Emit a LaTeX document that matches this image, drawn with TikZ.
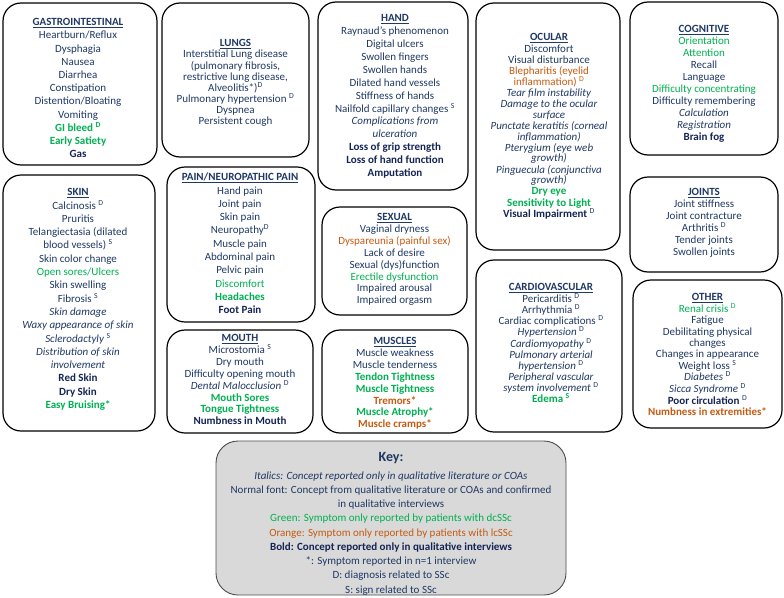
\documentclass[tikz,border=0pt]{standalone}
\usepackage{fontspec}
\setmainfont{Carlito}
\usetikzlibrary{calc}
\definecolor{navy}{RGB}{31,56,100}
\definecolor{navyb}{RGB}{20,36,84}
\definecolor{grn}{RGB}{0,176,80}
\definecolor{org}{RGB}{197,90,17}
\definecolor{keyfill}{RGB}{217,217,217}
\newcommand\cg[1]{\textcolor{grn}{#1}}
\newcommand\cgb[1]{\textcolor{grn}{\textbf{#1}}}
\newcommand\co[1]{\textcolor{org}{#1}}
\newcommand\cob[1]{\textcolor{org}{\textbf{#1}}}
\newcommand\cbb[1]{\textcolor{navyb}{\textbf{#1}}}
\newcommand\sD{\textsuperscript{D}}
\newcommand\sS{\textsuperscript{S}}
\newcommand\ttl[1]{\rule{0pt}{8pt}\underline{\textbf{#1}}}
\tikzset{
  panel/.style={draw=black, line width=1.2pt, rounded corners=18pt, inner sep=0pt},
  keypanel/.style={draw=black!70, fill=keyfill, line width=0.9pt, rounded corners=22pt, inner sep=0pt},
  txt/.style={inner sep=0pt, align=center, anchor=north, text=navy},
  lsp/.style={font={\fontsize{11}{#1}\selectfont}},
}
\begin{document}
\begin{tikzpicture}[x=1pt,y=-1pt]
\useasboundingbox (0,0) rectangle (784,597);

% panels
\node[panel, minimum width=154pt, minimum height=162pt] (gi) at (80,84) {};
\node[panel, minimum width=147pt, minimum height=154pt] (lungs) at (235.5,80) {};
\node[panel, minimum width=150pt, minimum height=188pt] (hand) at (393,96) {};
\node[panel, minimum width=144pt, minimum height=247pt] (ocular) at (548,126.5) {};
\node[panel, minimum width=148pt, minimum height=153pt] (cog) at (704,78.5) {};
\node[panel, minimum width=152pt, minimum height=256pt] (skin) at (79,303) {};
\node[panel, minimum width=148pt, minimum height=155pt] (pain) at (241,244.5) {};
\node[panel, minimum width=146pt, minimum height=103pt] (mouth) at (240,381.5) {};
\node[panel, minimum width=145pt, minimum height=108pt] (sexual) at (394.5,261) {};
\node[panel, minimum width=146pt, minimum height=103pt] (muscles) at (395,381.5) {};
\node[panel, minimum width=146pt, minimum height=172pt] (cardio) at (549,346) {};
\node[panel, minimum width=148pt, minimum height=95pt] (joints) at (704,224.5) {};
\node[panel, minimum width=149pt, minimum height=148pt] (other) at (707.5,354) {};
\node[keypanel, minimum width=350pt, minimum height=154pt] (key) at (391,518) {};

% texts
\node[txt, lsp=13.2] (gitxt) at (78,17.5) {\ttl{GASTROINTESTINAL}\\ Heartburn/Reflux\\ Dysphagia\\ Nausea\\ Diarrhea\\ Constipation\\ Distention/Bloating\\ Vomiting\\ \cgb{GI bleed \sD}\\ \cgb{Early Satiety}\\ \cbb{Gas}};

\node[txt, lsp=11.15] (lungstxt) at (235.5,38.5) {\ttl{LUNGS}\\ Interstitial Lung disease\\ (pulmonary fibrosis,\\ restrictive lung disease,\\ Alveolitis*)\sD\\ Pulmonary hypertension \sD\\ Dyspnea\\ Persistent cough};

\node[txt, lsp=12.9] (handtxt) at (395,13.5) {\ttl{HAND}\\ Raynaud's phenomenon\\ Digital ulcers\\ Swollen fingers\\ Swollen hands\\ Dilated hand vessels\\ Stiffness of hands\\ Nailfold capillary changes \sS\\ \textit{Complications from}\\ \textit{ulceration}\\ \cbb{Loss of grip strength}\\ \cbb{Loss of hand function}\\ \cbb{Amputation}};

\node[txt, lsp=11.3] (oculartxt) at (549,32.5) {\ttl{OCULAR}\\ Discomfort\\ Visual disturbance\\ \co{Blepharitis (eyelid}\\[-0.8pt] \co{inflammation) \sD}\\ \textit{Tear film instability}\\ \textit{Damage to the ocular}\\[-0.8pt] \textit{surface}\\ \textit{Punctate keratitis (corneal}\\[-0.8pt] \textit{inflammation)}\\ \textit{Pterygium (eye web}\\[-0.8pt] \textit{growth)}\\ \textit{Pinguecula (conjunctiva}\\[-0.8pt] \textit{growth)}\\ \cgb{Dry eye}\\ \cgb{Sensitivity to Light}\\ \cbb{Visual Impairment} \sD};

\node[txt, lsp=12] (cogtxt) at (704,24.5) {\ttl{COGNITIVE}\\ \cg{Orientation}\\ \cg{Attention}\\ Recall\\ Language\\ \cg{Difficulty concentrating}\\ Difficulty remembering\\ \textit{Calculation}\\ \textit{Registration}\\ \cbb{Brain fog}};

\node[txt, lsp=13.3] (skintxt) at (78,187.5) {\ttl{SKIN}\\ Calcinosis \sD\\ Pruritis\\ Telangiectasia (dilated\\ blood vessels) \sS\\ Skin color change\\ \cg{Open sores/Ulcers}\\ Skin swelling\\ Fibrosis \sS\\ \textit{Skin damage}\\ \textit{Waxy appearance of skin}\\ \textit{Sclerodactyly} \sS\\ \textit{Distribution of skin}\\ \textit{involvement}\\ \cbb{Red Skin}\\ \cbb{Dry Skin}\\ \cgb{Easy Bruising*}};

\node[txt, lsp=13.3] (paintxt) at (240,172.5) {\ttl{PAIN/NEUROPATHIC PAIN}\\ Hand pain\\ Joint pain\\ Skin pain\\ Neuropathy\sD\\ Muscle pain\\ Abdominal pain\\ Pelvic pain\\ \cg{Discomfort}\\ \cgb{Headaches}\\ \cbb{Foot Pain}};

\node[txt, lsp=11.86] (mouthtxt) at (240,333.5) {\ttl{MOUTH}\\ Microstomia \sS\\ Dry mouth\\ Difficulty opening mouth\\ \textit{Dental Malocclusion} \sD\\ \cgb{Mouth Sores}\\ \cgb{Tongue Tightness}\\ \cbb{Numbness in Mouth}};

\node[txt, lsp=11.86] (sexualtxt) at (394.5,212.5) {\ttl{SEXUAL}\\ Vaginal dryness\\ \co{Dyspareunia (painful sex)}\\ Lack of desire\\ Sexual (dys)function\\ \cg{Erectile dysfunction}\\ Impaired arousal\\ Impaired orgasm};

\node[txt, lsp=11.86] (musclestxt) at (395,336.5) {\ttl{MUSCLES}\\ Muscle weakness\\ Muscle tenderness\\ \cgb{Tendon Tightness}\\ \cgb{Muscle Tightness}\\ \cob{Tremors*}\\ \cgb{Muscle Atrophy*}\\ \cob{Muscle cramps*}};

\node[txt, lsp=11.3] (cardiotxt) at (551,282.5) {\ttl{CARDIOVASCULAR}\\ Pericarditis \sD\\ Arrhythmia \sD\\ Cardiac complications \sD\\ \textit{Hypertension} \sD\\ \textit{Cardiomyopathy} \sD\\ \textit{Pulmonary arterial}\\[-0.5pt] \textit{hypertension} \sD\\ \textit{Peripheral vascular}\\[-0.5pt] \textit{system involvement} \sD\\ \cgb{Edema \sS}};

\node[txt, lsp=12] (jointstxt) at (704,187.5) {\ttl{JOINTS}\\ Joint stiffness\\ Joint contracture\\ Arthritis \sD\\ Tender joints\\ Swollen joints};

\node[txt, lsp=11.6] (othertxt) at (707.5,292.5) {\ttl{OTHER}\\ \cg{Renal crisis \sD}\\ Fatigue\\ Debilitating physical\\[-1pt] changes\\ Changes in appearance\\ Weight loss \sS\\ \textit{Diabetes} \sD\\ \textit{Sicca Syndrome} \sD\\ \cbb{Poor circulation} \sD\\ \cob{Numbness in extremities*}};

\node[txt, lsp=14.25] (keytxt) at (391,450.5) {\rule{0pt}{11pt}{\fontsize{14}{14}\selectfont\textbf{Key:}}\\[3.25pt] \textit{Italics: Concept reported only in qualitative literature or COAs}\\ Normal font: Concept from qualitative literature or COAs and confirmed\\ in qualitative interviews\\ \cg{Green: Symptom only reported by patients with dcSSc}\\ \co{Orange: Symptom only reported by patients with lcSSc}\\ \cbb{Bold: Concept reported only in qualitative interviews}\\ *: Symptom reported in n=1 interview\\ D: diagnosis related to SSc\\ S: sign related to SSc};
\end{tikzpicture}
\end{document}
